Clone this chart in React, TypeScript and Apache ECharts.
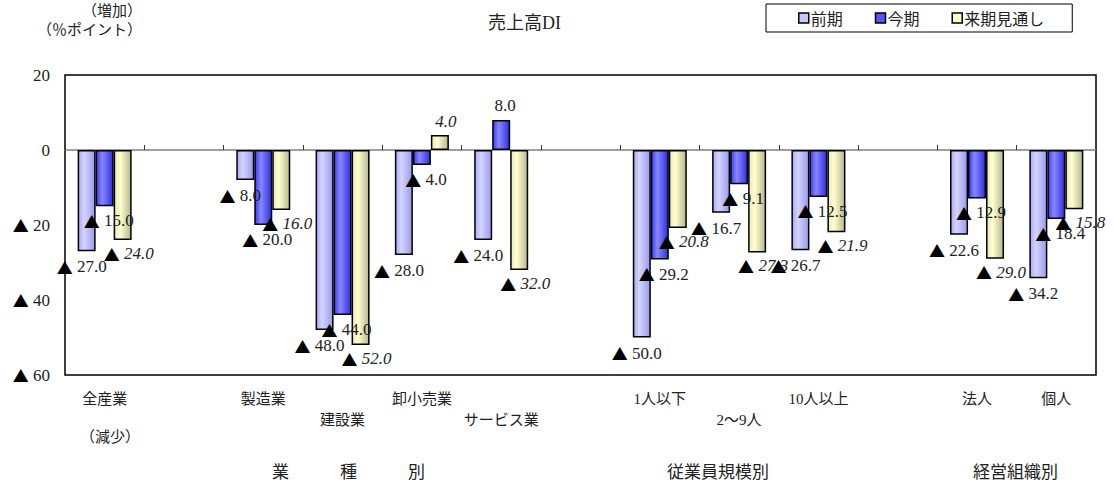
import React, { useEffect, useRef } from "react";
import * as echarts from "echarts";

const categories = ["全産業", "", "製造業", "建設業", "卸小売業", "サービス業", " ", "1人以下", "2〜9人", "10人以上", "  ", "法人", "個人"];
const lowerRow = ["建設業", "サービス業", "2〜9人"];
const seriesNames = ["前期", "今期", "来期見通し"];
const prevValues = [-27.0, null, -8.0, -48.0, -28.0, -24.0, null, -50.0, -16.7, -26.7, null, -22.6, -34.2];
const currValues = [-15.0, null, -20.0, -44.0, -4.0, 8.0, null, -29.2, -9.1, -12.5, null, -12.9, -18.4];
const nextValues = [-24.0, null, -16.0, -52.0, 4.0, -32.0, null, -20.8, -27.3, -21.9, null, -29.0, -15.8];
const yTicks = { min: -60, max: 20, interval: 20 };
const yTickValues = [20, 0, -20, -40, -60];
const groupLabels = ["業　　　種　　　別", "従業員規模別", "経営組織別"];

const SERIF = "'Liberation Serif', 'Noto Sans CJK JP', serif";
const CJK = "'Noto Sans CJK JP', sans-serif";

function grad(edge: string, mid: string, dark: string) {
  return new echarts.graphic.LinearGradient(0, 0, 1, 0, [
    { offset: 0, color: edge },
    { offset: 0.35, color: mid },
    { offset: 1, color: dark },
  ]);
}

export default function App() {
  const ref = useRef<HTMLDivElement>(null);
  useEffect(() => {
    if (!ref.current) return;
    const chart = echarts.init(ref.current, null, { renderer: "svg" });
    const fmt = (p: any) => {
      const v = p.value as number;
      if (v == null) return "";
      return v < 0 ? "{tri|▲} " + Math.abs(v).toFixed(1) : v.toFixed(1);
    };
    const mkLabel = (italic: boolean, dx: number, dist: number) => ({
      show: true,
      formatter: fmt,
      fontFamily: SERIF,
      fontSize: 17,
      color: "#222",
      fontStyle: italic ? "italic" : "normal",
      offset: [dx, 0],
      distance: dist,
      rich: { tri: { fontSize: 16, color: "#000", fontFamily: CJK, fontStyle: "normal" } },
    });
    const colors = [
      grad("#a8a8ff", "#d4d4ff", "#9a9aee"),
      grad("#3a3aff", "#8888ff", "#3030e0"),
      grad("#e8e8b8", "#ffffd0", "#b8b890"),
    ];
    const values = [prevValues, currValues, nextValues];
    const offsets = [-5, 4, 6];
    const dists = [7, 6, 5];
    const series = values.map((vals, i) => ({
      name: seriesNames[i],
      type: "bar",
      xAxisIndex: 0,
      barWidth: 18,
      barGap: "0%",
      data: vals.map((v) => ({
        value: v,
        label: { position: v != null && v >= 0 ? "top" : "bottom" },
      })),
      itemStyle: { color: colors[i], borderColor: "#000", borderWidth: 1.5 },
      label: mkLabel(i === 2, offsets[i], dists[i]),
    }));
    const baseGraphic: any[] = [
      { type: "text", left: 82, top: 2, style: { text: "（増加）", font: `15px ${CJK}`, fill: "#222" } },
      { type: "text", left: 37, top: 21, style: { text: "（％ポイント）", font: `15px ${CJK}`, fill: "#222" } },
      { type: "text", left: 80, top: 428, style: { text: "（減少）", font: `15px ${CJK}`, fill: "#222" } },
      { type: "text", left: 272, top: 462, style: { text: groupLabels[0], font: `17px ${CJK}`, fill: "#222" } },
      { type: "text", left: 667, top: 462, style: { text: groupLabels[1], font: `17px ${CJK}`, fill: "#222" } },
      { type: "text", left: 973, top: 462, style: { text: groupLabels[2], font: `17px ${CJK}`, fill: "#222" } },
    ];
    chart.setOption({
      animation: false,
      title: {
        text: "売上高DI",
        left: 483,
        top: 9,
        textStyle: { fontFamily: SERIF, fontSize: 18, fontWeight: "normal", color: "#222" },
      },
      legend: {
        data: seriesNames.map((n, i) => ({ name: n, itemStyle: { color: ["#c8c8ff", "#5555ff", "#ffffc8"][i] } })),
        left: 766,
        top: 4,
        padding: [6, 28, 6, 32],
        itemGap: 32,
        itemWidth: 10,
        itemHeight: 10,
        icon: "rect",
        borderColor: "#000",
        borderWidth: 1,
        itemStyle: { borderColor: "#000", borderWidth: 1.5 },
        textStyle: { fontFamily: CJK, fontSize: 16, color: "#222", padding: [0, 0, 0, -3] },
      },
      grid: {
        left: 65,
        right: 17,
        top: 75,
        bottom: 109,
        show: true,
        borderColor: "#000",
        borderWidth: 1.5,
      },
      xAxis: [
        {
          type: "category",
          data: categories,
          axisLine: { onZero: true, lineStyle: { color: "#808080", width: 1.5 } },
          axisTick: { show: true, inside: true, length: 5, lineStyle: { color: "#333" } },
          axisLabel: { show: false },
        },
        {
          type: "category",
          data: categories,
          position: "bottom",
          axisLine: { show: false, onZero: false },
          axisTick: { show: false },
          axisLabel: {
            margin: 13,
            interval: 0,
            fontFamily: SERIF,
            fontSize: 15,
            color: "#222",
            lineHeight: 21,
            formatter: (v: string) => (lowerRow.includes(v) ? "\n" + v : v),
          },
        },
      ],
      yAxis: {
        type: "value",
        min: yTicks.min,
        max: yTicks.max,
        interval: yTicks.interval,
        axisLine: { show: false },
        axisTick: { show: false },
        splitLine: { show: false },
        axisLabel: { show: false },
      },
      series,
      graphic: baseGraphic,
    });
    const yLabels = yTickValues.map((v) => {
      const py = chart.convertToPixel({ yAxisIndex: 0 }, v) as number;
      return {
        type: "text",
        x: 50,
        y: py,
        style: {
          text: v < 0 ? "{tri|▲} " + Math.abs(v) : String(v),
          font: `17px ${SERIF}`,
          fill: "#222",
          align: "right",
          verticalAlign: "middle",
          textAlign: "right",
          textVerticalAlign: "middle",
          rich: { tri: { fontSize: 16, fill: "#000", color: "#000", fontFamily: CJK } },
        },
      };
    });
    chart.setOption({ graphic: [...baseGraphic, ...yLabels] });
    return () => chart.dispose();
  }, []);
  return <div ref={ref} style={{ width: 1113, height: 484, position: "absolute", left: 0, top: 0 }} />;
}
